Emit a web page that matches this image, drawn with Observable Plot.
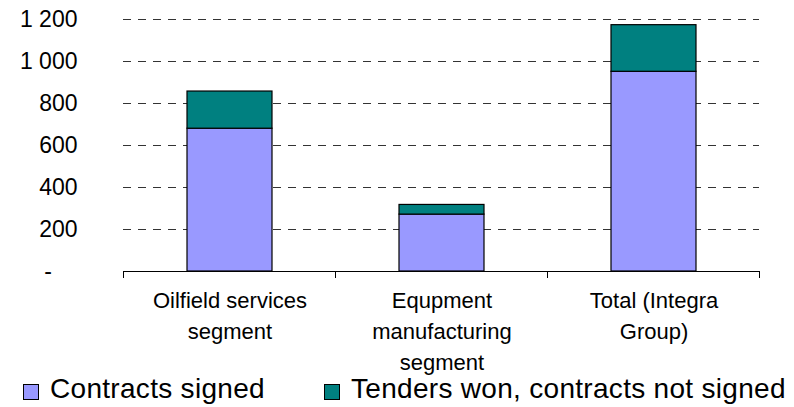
<!DOCTYPE html>
<html>
<head>
<meta charset="utf-8">
<script src="https://cdn.jsdelivr.net/npm/d3@7"></script>
<script src="https://cdn.jsdelivr.net/npm/@observablehq/plot@0.6"></script>
<style>
  html, body { margin: 0; padding: 0; background: #fff; }
  #chart { position: relative; width: 794px; height: 407px; font-family: "Liberation Sans", Arial, sans-serif; }
  #chart svg { position: absolute; left: 0; top: 0; }
  #legend { position: absolute; left: 0; top: 378px; width: 794px; height: 29px; font-size: 28px; letter-spacing: 0.3px; color: #000; }
  .item { position: absolute; top: 0; height: 22px; line-height: 22px; white-space: nowrap; }
  .swatch { position: absolute; top: 6px; width: 14px; height: 14px; border: 1px solid #000; }
  .label { position: absolute; top: 0; height: 22px; line-height: 22px; }
</style>
</head>
<body>
<div id="chart"></div>
<script>
// Categories (line breaks follow the axis labels)
const categories = [
  "Oilfield services\nsegment",
  "Equpment\nmanufacturing\nsegment",
  "Total (Integra\nGroup)"
];
// Series values, one per category
const contractsSigned = [680, 271, 951];
const tendersNotSigned = [177, 46, 222];
const seriesNames = ["Contracts signed", "Tenders won, contracts not signed"];
const seriesColors = ["#9999FF", "#008080"];
// Y axis ticks
const yTicks = [0, 200, 400, 600, 800, 1000, 1200];

const rows = categories.flatMap((category, i) => [
  {category, series: seriesNames[0], value: contractsSigned[i]},
  {category, series: seriesNames[1], value: tendersNotSigned[i]}
]);

const fmt = d3.formatLocale({decimal: ".", thousands: "\u00a0", grouping: [3], currency: ["", ""]}).format(",");

// Small tick marks at the category boundaries under the baseline
function boundaryTicks(index, scales, values, dimensions) {
  const {width, marginLeft, marginRight} = dimensions;
  const n = categories.length;
  const step = (width - marginLeft - marginRight) / n;
  const y0 = scales.y(0);
  const g = d3.create("svg:g").attr("stroke", "#000").attr("stroke-width", 1);
  for (let k = 0; k <= n; ++k) {
    const x = Math.round(marginLeft + k * step) + 0.5;
    g.append("line").attr("x1", x).attr("x2", x).attr("y1", y0).attr("y2", y0 + 7);
  }
  return g.node();
}

const plot = Plot.plot({
  width: 794,
  height: 376,
  marginLeft: 123,
  marginRight: 35,
  marginTop: 19,
  marginBottom: 105,
  style: {fontFamily: "'Liberation Sans', Arial, sans-serif", background: "transparent", color: "#000"},
  x: {domain: categories, paddingInner: 0.6, paddingOuter: 0.3, axis: null, label: null},
  y: {domain: [0, 1200], axis: null, label: null},
  color: {domain: seriesNames, range: seriesColors},
  marks: [
    Plot.gridY(yTicks.filter((d) => d > 0), {stroke: "#333", strokeOpacity: 1, strokeDasharray: "8,7"}),
    Plot.barY(rows, {x: "category", y: "value", fill: "series", stroke: "#000", strokeWidth: 1.2}),
    Plot.ruleY([0], {stroke: "#000", strokeWidth: 1}),
    boundaryTicks,
    Plot.axisY(yTicks, {
      tickSize: 0, tickPadding: 46, fontSize: 23, fill: "#000",
      tickFormat: (d) => d === 0 ? "-\u2007\u2007" : fmt(d)
    }),
    Plot.axisX({tickSize: 0, tickPadding: 14, fontSize: 22, lineHeight: 1.42, fill: "#000"})
  ]
});

const chart = document.getElementById("chart");
chart.appendChild(plot);

// Legend below the plot
const legend = document.createElement("div");
legend.id = "legend";
const legendLeft = [23, 324];
seriesNames.forEach((name, i) => {
  const item = document.createElement("div");
  item.className = "item";
  item.style.left = legendLeft[i] + "px";
  const sw = document.createElement("div");
  sw.className = "swatch";
  sw.style.left = "0px";
  sw.style.background = seriesColors[i];
  const lb = document.createElement("div");
  lb.className = "label";
  lb.style.left = "27px";
  lb.textContent = name;
  item.appendChild(sw);
  item.appendChild(lb);
  legend.appendChild(item);
});
chart.appendChild(legend);
</script>
</body>
</html>
